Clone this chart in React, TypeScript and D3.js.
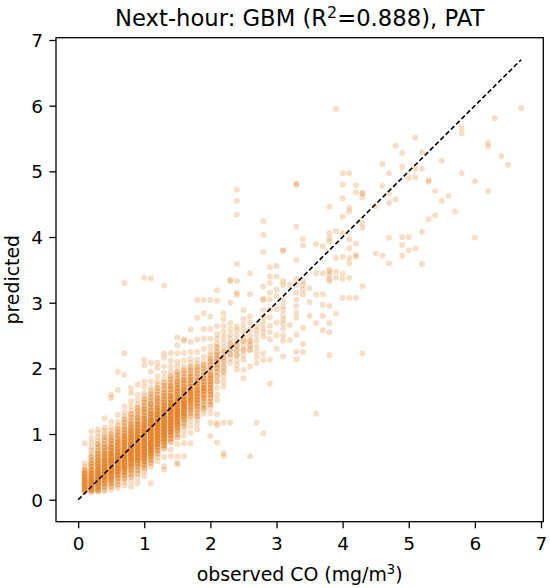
import React, { useEffect, useMemo, useRef } from "react";
import * as d3 from "d3";

// Observed CO (mg/m3) columns (the sensor reports in 0.1 steps)
const observedCO: number[] = [
  0.1, 0.2, 0.3, 0.4, 0.5, 0.6, 0.7, 0.8, 0.9, 1.0,
  1.1, 1.2, 1.3, 1.4, 1.5, 1.6, 1.7, 1.8, 1.9, 2.0,
  2.1, 2.2, 2.3, 2.4, 2.5, 2.6, 2.7, 2.8, 2.9, 3.0,
  3.1, 3.2, 3.3, 3.4, 3.5, 3.6, 3.7, 3.8, 3.9, 4.0,
  4.1, 4.2, 4.3, 4.5, 4.6, 4.7, 4.8, 4.9, 5.0, 5.1,
  5.2, 5.3, 5.4, 5.5, 5.6, 5.7, 5.8, 6.0, 6.2, 6.3,
  6.4, 6.5, 6.7,
];

// Predicted values for each observed column, "value:count"
const predictedCO: string[] = [
  "0.12:2 0.15:4 0.2:5 0.25:5 0.3:5 0.35:4 0.4:4 0.45:3 0.5:1 0.55:1 0.86:1",
  "0.12:2 0.15:5 0.2:6 0.25:6 0.3:6 0.35:5 0.4:5 0.45:4 0.5:3 0.55:3 0.6:2 0.65:2 0.7:1 0.75:1 0.8:1 0.87:1 0.94:1 1.04:1",
  "0.13:2 0.15:3 0.2:5 0.25:6 0.3:6 0.35:6 0.4:6 0.45:5 0.5:5 0.55:4 0.6:4 0.65:3 0.7:3 0.75:2 0.8:2 0.85:2 0.9:1 0.95:1 1.01:1 1.07:1",
  "0.14:2 0.2:3 0.25:4 0.3:5 0.35:6 0.4:6 0.45:6 0.5:6 0.55:5 0.6:5 0.65:4 0.7:4 0.75:3 0.8:3 0.85:2 0.9:2 0.95:2 1.0:1 1.05:1 1.1:1 1.24:1",
  "0.15:1 0.2:2 0.25:3 0.3:4 0.35:5 0.4:6 0.45:6 0.5:6 0.55:6 0.6:6 0.65:5 0.7:5 0.75:4 0.8:4 0.85:3 0.9:3 0.95:2 1.0:2 1.05:1 1.1:1 1.19:1 1.55:1 1.6:1",
  "0.18:1 0.23:2 0.28:2 0.33:3 0.38:4 0.43:5 0.48:6 0.53:6 0.58:6 0.63:6 0.68:6 0.73:5 0.78:5 0.83:4 0.88:4 0.93:3 0.98:3 1.03:2 1.08:2 1.13:1 1.18:1 1.29:1 1.67:1 1.95:1",
  "0.22:1 0.27:1 0.32:2 0.37:3 0.42:4 0.47:5 0.52:6 0.57:6 0.62:6 0.67:6 0.72:6 0.77:6 0.82:5 0.87:5 0.92:4 0.97:4 1.02:3 1.07:3 1.12:2 1.17:2 1.22:2 1.27:1 1.33:1 1.42:1 1.9:1 2.23:1 3.3:1",
  "0.2:1 0.28:1 0.35:2 0.4:2 0.45:3 0.5:4 0.55:5 0.6:6 0.65:6 0.7:6 0.75:6 0.8:6 0.85:6 0.9:5 0.95:5 1.0:4 1.05:4 1.1:3 1.15:3 1.2:2 1.25:2 1.3:2 1.35:1 1.42:1 1.5:1 1.62:1 1.7:1",
  "0.25:1 0.33:1 0.4:2 0.45:2 0.5:3 0.55:4 0.6:5 0.65:6 0.7:6 0.75:6 0.8:6 0.85:6 0.9:6 0.95:6 1.0:5 1.05:5 1.1:4 1.15:4 1.2:3 1.25:3 1.3:2 1.35:2 1.4:2 1.45:1 1.52:1 1.6:1 1.75:1",
  "0.36:1 0.43:1 0.48:2 0.53:3 0.58:4 0.63:5 0.68:6 0.73:6 0.78:6 0.83:6 0.88:6 0.93:6 0.98:6 1.03:6 1.08:5 1.13:5 1.18:4 1.23:4 1.28:3 1.33:3 1.38:3 1.43:2 1.48:2 1.53:2 1.58:1 1.63:1 1.72:1 1.8:1 2.05:1 2.13:1 3.38:1",
  "0.25:1 0.5:1 0.56:2 0.61:3 0.66:4 0.71:5 0.76:6 0.81:6 0.86:6 0.91:6 0.96:6 1.01:6 1.06:6 1.11:6 1.16:5 1.21:5 1.26:4 1.31:4 1.36:3 1.41:3 1.46:3 1.51:2 1.56:2 1.61:2 1.66:1 1.71:1 1.8:1 1.95:1 2.08:1 3.37:1",
  "0.59:1 0.65:1 0.7:2 0.75:3 0.8:4 0.85:5 0.9:6 0.95:6 1.0:6 1.05:6 1.1:6 1.15:6 1.2:6 1.25:5 1.3:5 1.35:4 1.4:4 1.45:3 1.5:3 1.55:3 1.6:2 1.65:2 1.7:2 1.75:1 1.8:1 1.88:1 2.0:1 2.08:1",
  "0.46:1 0.51:1 0.65:1 0.78:2 0.83:3 0.88:4 0.93:5 0.98:6 1.03:6 1.08:6 1.13:6 1.18:6 1.23:6 1.28:6 1.33:5 1.38:5 1.43:4 1.48:4 1.53:3 1.58:3 1.63:3 1.68:2 1.73:2 1.78:2 1.85:1 1.93:1 2.03:1 2.16:1 2.23:1 3.26:1",
  "0.66:1 0.76:1 0.88:2 0.93:3 0.98:4 1.03:5 1.08:6 1.13:6 1.18:6 1.23:6 1.28:6 1.33:6 1.38:6 1.43:5 1.48:5 1.53:4 1.58:4 1.63:3 1.68:3 1.73:3 1.78:2 1.83:2 1.88:2 1.95:1 2.03:1 2.12:1 2.23:1",
  "0.54:1 0.56:1 0.66:1 0.85:1 0.95:2 1.0:2 1.05:3 1.1:4 1.15:5 1.2:6 1.25:6 1.3:6 1.35:6 1.4:6 1.45:5 1.5:5 1.55:4 1.6:4 1.65:4 1.7:3 1.75:3 1.8:3 1.85:2 1.9:2 1.95:2 2.03:1 2.1:1 2.23:1 2.35:1 2.47:1",
  "0.66:1 0.86:1 0.97:1 1.05:1 1.12:2 1.17:2 1.22:3 1.27:4 1.32:5 1.37:5 1.42:6 1.47:6 1.52:5 1.57:5 1.62:4 1.67:4 1.72:3 1.77:3 1.82:3 1.87:2 1.92:2 1.97:2 2.03:1 2.12:1 2.23:1 2.42:1 2.44:1",
  "0.86:1 1.02:1 1.12:1 1.2:1 1.27:2 1.32:2 1.37:3 1.42:3 1.47:4 1.52:5 1.57:5 1.62:5 1.67:4 1.72:4 1.77:3 1.82:3 1.87:3 1.92:2 1.97:2 2.02:2 2.08:1 2.15:1 2.25:1 2.4:1 2.59:1",
  "1.07:1 1.15:1 1.22:1 1.27:2 1.32:2 1.37:2 1.42:3 1.47:3 1.52:4 1.57:4 1.62:4 1.67:4 1.72:3 1.77:3 1.82:3 1.87:2 1.92:2 1.97:2 2.02:2 2.07:1 2.13:1 2.25:1 2.44:1 2.77:1 3.04:1",
  "1.31:1 1.37:1 1.4:2 1.45:2 1.5:2 1.55:3 1.6:3 1.65:4 1.7:4 1.75:3 1.8:3 1.85:3 1.9:2 1.95:2 2.0:2 2.05:2 2.1:1 2.18:1 2.3:1 2.45:1 2.6:1 2.84:1 3.04:1",
  "0.97:1 1.17:1 1.32:1 1.4:1 1.45:2 1.5:2 1.55:2 1.6:3 1.65:3 1.7:3 1.75:3 1.8:3 1.85:3 1.9:3 1.95:2 2.0:2 2.05:2 2.1:2 2.15:2 2.2:1 2.25:1 2.33:1 2.45:1 2.6:1 2.79:1 3.04:1",
  "0.87:1 1.13:1 1.17:1 1.3:1 1.52:1 1.6:1 1.7:1 1.8:2 1.88:2 1.95:2 2.0:2 2.05:2 2.1:2 2.15:2 2.2:2 2.25:2 2.32:2 2.38:1 2.45:1 2.52:1 2.64:1 3.03:1 3.19:1",
  "0.67:1 0.71:1 1.17:1 1.72:1 1.8:1 1.88:1 1.95:2 2.02:2 2.1:2 2.17:2 2.25:2 2.32:1 2.4:1 2.48:1 2.56:1 2.65:1 2.75:1 2.84:1",
  "1.17:1 2.08:1 2.15:1 2.22:2 2.3:2 2.38:2 2.45:1 2.52:1 2.6:1 2.69:1 3.0:1 3.33:1 3.35:1",
  "1.98:1 2.05:1 2.12:1 2.2:2 2.28:2 2.35:2 2.42:1 2.5:1 2.58:1 2.64:1 3.12:1 3.15:1 3.33:1 3.59:1 4.34:1 4.55:1 4.72:1",
  "1.85:1 1.98:1 2.13:1 2.2:1 2.28:2 2.35:1 2.42:2 2.5:1 2.58:1 2.66:1 2.75:1 2.89:1",
  "0.66:1 2.03:1 2.28:2 2.35:2 2.42:2 2.5:1 2.59:1 2.7:1 2.79:1 3.13:1 3.45:1",
  "1.17:1 2.08:1 2.17:1 2.25:1 2.33:1 2.42:1 2.5:1 2.58:1 2.64:1",
  "1.01:1 2.13:1 2.23:1 2.48:1 2.55:1 2.62:1 2.7:1 2.78:1 2.89:1 3.04:1 3.06:1 3.25:1 3.77:1 4.03:1 4.24:1",
  "1.77:1 2.13:1 2.44:1 2.55:1 2.65:1 2.78:1 2.9:1 3.05:1 3.15:1 3.3:1 3.4:1 3.54:1",
  "2.3:1 2.5:1 2.7:1 2.9:1 3.1:1 3.2:1 3.4:1 3.56:1",
  "2.18:1 2.42:1 2.5:1 2.6:1 2.68:1 2.74:1 2.8:1 2.89:1 2.95:1 3.04:1 3.27:1 3.33:1 3.79:1 3.8:1",
  "2.43:1 2.66:1 3.27:1",
  "2.14:1 2.25:1 2.51:1 2.77:1 2.85:1 2.95:1 3.05:1 3.15:1 3.27:1 3.36:1 3.65:1 4.16:1 4.8:1 4.81:1",
  "2.25:1 2.37:1 2.62:1 3.13:1 3.2:1 3.27:1 3.33:1 3.87:1 3.97:1",
  "2.8:1 3.01:1 3.22:1",
  "1.31:1 2.69:1 3.12:1 3.45:1 3.89:1",
  "2.58:1 2.8:1 2.97:1 3.13:1 3.45:1 3.86:1",
  "2.2:1 2.55:1 2.69:1 2.95:1 3.33:1 3.36:1 3.42:1 3.47:1 3.5:1 3.93:1 3.98:1 4.06:1 4.46:1",
  "2.83:1 3.38:1 3.47:1 3.68:1 4.09:1 5.95:1",
  "3.07:1 3.36:1 3.44:1 3.7:1 4.06:1 4.31:1 4.59:1 4.8:1 4.97:1",
  "3.07:1 3.38:1 3.6:1 3.68:1 3.83:1 3.97:1 4.39:1 4.44:1 4.97:1",
  "3.07:1 3.7:1 3.73:1 3.9:1 4.68:1 4.79:1",
  "2.23:1 3.25:1 4.14:1 4.21:1 4.6:1 4.66:1 4.67:1",
  "3.75:1 4.47:1",
  "3.72:1 4.78:1 5.11:1",
  "3.6:1 3.99:1 4.52:1 4.67:1 4.97:1",
  "4.57:1 5.39:1",
  "3.72:1 3.88:1 4.0:1 5.07:1 5.28:1",
  "3.8:1 4.0:1 4.9:1",
  "3.82:1 4.91:1 5.04:1 5.51:1",
  "3.59:1 4.08:1 5.04:1 5.29:1",
  "4.27:1 4.84:1 4.87:1",
  "4.33:1 4.7:1",
  "4.55:1 5.16:1",
  "4.63:1",
  "4.39:1",
  "4.97:1 5.58:1 5.66:1",
  "3.99:1 4.85:1",
  "4.7:1 5.38:1 5.43:1",
  "5.81:1",
  "5.23:1",
  "5.1:1",
  "5.96:1",
];

const xTicks: number[] = [0, 1, 2, 3, 4, 5, 6, 7];
const yTicks: number[] = [0, 1, 2, 3, 4, 5, 6, 7];
const identityLine: number[] = [0, 6.7];
const axisDomain: [number, number] = [-0.335, 7.035];

const W = 550;
const H = 588;
const PLOT = { left: 56, right: 543.3, top: 37.7, bottom: 521.7 };
const FONT = "'DejaVu Sans', Verdana, sans-serif";
const COLOR = "#e67e22";

export default function App() {
  const xAxisRef = useRef<SVGGElement>(null);
  const yAxisRef = useRef<SVGGElement>(null);

  const x = d3.scaleLinear().domain(axisDomain).range([PLOT.left, PLOT.right]);
  const y = d3.scaleLinear().domain(axisDomain).range([PLOT.bottom, PLOT.top]);

  const points = useMemo(() => {
    const out: { o: number; p: number }[] = [];
    observedCO.forEach((o, i) => {
      const s = predictedCO[i] || "";
      s.split(/\s+/).filter(Boolean).forEach((tok) => {
        const [v, c] = tok.split(":");
        const n = c ? +c : 1;
        for (let k = 0; k < n; k++) out.push({ o, p: +v });
      });
    });
    return out;
  }, []);

  useEffect(() => {
    const gx = d3.select(xAxisRef.current!);
    gx.call(
      d3.axisBottom(x).tickValues(xTicks).tickSize(6.6).tickPadding(6.6).tickFormat(d3.format("d")) as any
    );
    gx.select(".domain").remove();
    gx.selectAll(".tick line").attr("stroke", "#000").attr("stroke-width", 1.3);
    gx.selectAll(".tick text")
      .attr("fill", "#000")
      .attr("font-size", 18.5)
      .attr("font-family", FONT)
      .attr("y", 28.3)
      .attr("dy", "0");

    const gy = d3.select(yAxisRef.current!);
    gy.call(
      d3.axisLeft(y).tickValues(yTicks).tickSize(6.6).tickPadding(6.4).tickFormat(d3.format("d")) as any
    );
    gy.select(".domain").remove();
    gy.selectAll(".tick line").attr("stroke", "#000").attr("stroke-width", 1.3);
    gy.selectAll(".tick text")
      .attr("fill", "#000")
      .attr("font-size", 18.5)
      .attr("font-family", FONT)
      .attr("dy", "0.35em");
  }, []);

  const line = d3
    .line<number>()
    .x((d) => x(d))
    .y((d) => y(d));

  return (
    <svg
      width={W}
      height={H}
      viewBox={`0 0 ${W} ${H}`}
      style={{ position: "absolute", left: 0, top: 0, background: "#fff" }}
    >
      <rect x={0} y={0} width={W} height={H} fill="#fff" />
      <g>
        {points.map((d, i) => (
          <circle key={i} cx={x(d.o)} cy={y(d.p)} r={3.0} fill={COLOR} fillOpacity={0.26} />
        ))}
      </g>
      <path
        d={line(identityLine) || ""}
        fill="none"
        stroke="#000"
        strokeWidth={1.6}
        strokeDasharray="4.8 2.6"
      />
      <rect
        x={PLOT.left}
        y={PLOT.top}
        width={PLOT.right - PLOT.left}
        height={PLOT.bottom - PLOT.top}
        fill="none"
        stroke="#000"
        strokeWidth={1.3}
      />
      <g ref={xAxisRef} transform={`translate(0,${PLOT.bottom})`} />
      <g ref={yAxisRef} transform={`translate(${PLOT.left},0)`} />
      <text
        x={(PLOT.left + PLOT.right) / 2}
        y={26.4}
        textAnchor="middle"
        fontFamily={FONT}
        fontSize={22.7}
        fill="#000"
      >
        Next-hour: GBM (R
        <tspan dy={-8.5} fontSize={15.9}>2</tspan>
        <tspan dy={8.5}>=0.888), PAT</tspan>
      </text>
      <text
        x={(PLOT.left + PLOT.right) / 2}
        y={580.5}
        textAnchor="middle"
        fontFamily={FONT}
        fontSize={18.9}
        fill="#000"
      >
        observed CO (mg/m
        <tspan dy={-7} fontSize={13.2}>3</tspan>
        <tspan dy={7}>)</tspan>
      </text>
      <text
        transform={`translate(19,${(PLOT.top + PLOT.bottom) / 2}) rotate(-90)`}
        textAnchor="middle"
        fontFamily={FONT}
        fontSize={18.9}
        fill="#000"
      >
        predicted
      </text>
    </svg>
  );
}
